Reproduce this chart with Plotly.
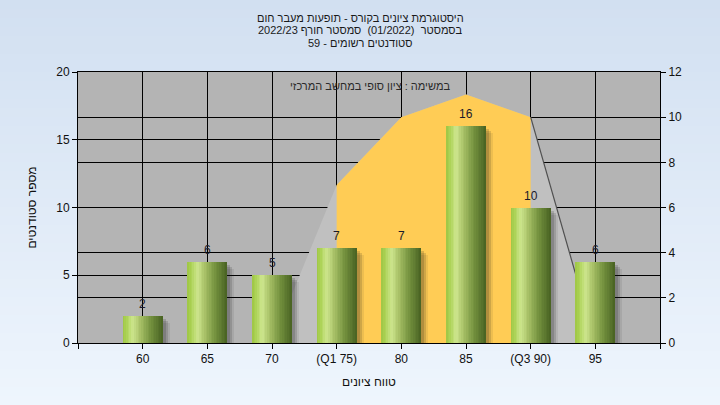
import plotly.graph_objects as go

# ---------------- data ----------------
categories = ["60", "65", "70", "(Q1 75)", "80", "85", "(Q3 90)", "95"]
counts = [2, 6, 5, 7, 7, 16, 10, 6]
curve = [0, 0, 0, 7, 10, 11, 10, 0]          # right axis (0-12)
q1_idx, q3_idx = 3, 6                        # highlighted (orange) span

title_lines = [
    "היסטוגרמת ציונים בקורס - תופעות מעבר חום",
    "בסמסטר  (01/2022)  סמסטר חורף 2022/23",
    "סטודנטים רשומים - 59",
]
legend_text = "במשימה : ציון סופי במחשב המרכזי"
x_title = "טווח ציונים"
y_title = "מספר סטודנטים"

# ---------------- layout constants ----------------
W, H = 720, 405
ML, MR, MT, MB = 78, 60, 72, 62
PW, PH = W - ML - MR, H - MT - MB
FONT = "Arial, Liberation Sans, DejaVu Sans, sans-serif"


def py(px):  # pixel-from-top -> paper y
    return (H - MB - px) / PH


def pxx(px):  # pixel-from-left -> paper x
    return (px - ML) / PW


x = list(range(len(categories)))
bw = 0.62

fig = go.Figure()

# ---------------- area (normal curve) on main y (right side) ----------------
fig.add_trace(go.Scatter(
    x=x, y=curve, yaxis="y", mode="lines", line=dict(width=0, color="#c0c0c0"),
    fill="tozeroy", fillcolor="#c0c0c0", hoverinfo="skip", showlegend=False))
fig.add_trace(go.Scatter(
    x=x[q1_idx:q3_idx + 1], y=curve[q1_idx:q3_idx + 1], yaxis="y", mode="lines",
    line=dict(width=0, color="#ffcc55"), fill="tozeroy", fillcolor="#ffcc55",
    hoverinfo="skip", showlegend=False))
fig.add_trace(go.Scatter(
    x=x[q3_idx:q3_idx + 2], y=curve[q3_idx:q3_idx + 2], yaxis="y", mode="lines",
    line=dict(width=1.2, color="#505050"), hoverinfo="skip", showlegend=False))

# ---------------- bars on y2 (left side, overlay -> drawn above area) ----------------
px_x = PW / 9.0
px_y = PH / 20.0
for d, alpha in [(7, 0.08), (5, 0.14), (3, 0.16)]:
    sx, sy = d / px_x, d / px_y
    fig.add_trace(go.Bar(
        x=x, y=counts, base=[-sy] * len(counts), yaxis="y2",
        width=bw, offset=-bw / 2 + sx,
        marker=dict(color=f"rgba(20,20,20,{alpha})", line=dict(width=0)),
        cliponaxis=False, hoverinfo="skip", showlegend=False))

stops = [(0.0, (158, 198, 68)), (0.1, (172, 210, 86)), (0.25, (206, 230, 142)),
         (0.45, (165, 190, 100)), (0.7, (115, 145, 62)), (1.0, (72, 98, 34))]


def grad(t):
    for (t0, c0), (t1, c1) in zip(stops[:-1], stops[1:]):
        if t0 <= t <= t1:
            f = (t - t0) / (t1 - t0)
            return "rgb(%d,%d,%d)" % tuple(round(a + (b - a) * f) for a, b in zip(c0, c1))
    return "rgb(%d,%d,%d)" % stops[-1][1]


N = 24
step = bw / N
for i in range(N):
    w = step * (1.6 if i < N - 1 else 1.0)
    fig.add_trace(go.Bar(
        x=x, y=counts, yaxis="y2", width=w, offset=-bw / 2 + i * step,
        marker=dict(color=grad((i + 0.5) / N), line=dict(width=0)),
        hoverinfo="skip", showlegend=False))

# ---------------- background gradient ----------------
shapes = []
n = 45
top_c, bot_c = (210, 224, 241), (238, 245, 253)
for i in range(n):
    y0p, y1p = i * H / n, (i + 1) * H / n + 0.6
    f = i / (n - 1)
    col = "rgb(%d,%d,%d)" % tuple(round(a + (b - a) * f) for a, b in zip(top_c, bot_c))
    shapes.append(dict(type="rect", xref="paper", yref="paper", layer="below",
                       x0=pxx(-2), x1=pxx(W + 2), y0=py(y1p), y1=py(y0p),
                       fillcolor=col, line=dict(width=0)))
shapes.append(dict(type="rect", xref="x domain", yref="y domain", layer="below",
                   x0=0, x1=1, y0=0, y1=1, fillcolor="#b4b4b4", line=dict(width=0)))

axis_font = dict(family=FONT, size=12, color="#111111")

annotations = [dict(text=t, xref="paper", yref="paper", x=pxx(W / 2), y=py(yc),
                    showarrow=False, xanchor="center", yanchor="middle",
                    font=dict(family=FONT, size=11, color="#1a1a1a"))
               for t, yc in zip(title_lines, [18, 30.5, 43])]
annotations.append(dict(text=legend_text, xref="paper", yref="paper",
                        x=pxx(370), y=py(86),
                        showarrow=False, xanchor="center", yanchor="middle",
                        font=dict(family=FONT, size=11, color="#2a2a2a")))
# value labels above bars
for xi, c in zip(x, counts):
    annotations.append(dict(text=str(c), x=xi, y=c, xref="x", yref="y2",
                            yshift=12, showarrow=False, xanchor="center",
                            yanchor="middle",
                            font=dict(family=FONT, size=12, color="#1a1a2a")))

fig.update_layout(
    width=W, height=H,
    margin=dict(l=ML, r=MR, t=MT, b=MB),
    paper_bgcolor="#e0eaf6", plot_bgcolor="#b4b4b4",
    barmode="overlay", bargap=0,
    shapes=shapes,
    xaxis=dict(range=[-1, 8], tickmode="array",
               tickvals=[-1] + x + [8], ticktext=[""] + categories + [""],
               showgrid=True, gridcolor="black", gridwidth=1,
               showline=True, linecolor="black", linewidth=1, mirror=True,
               ticks="outside", ticklen=5, tickcolor="black",
               tickfont=axis_font, zeroline=False,
               title=dict(text=x_title, font=dict(family=FONT, size=12, color="#111111"),
                          standoff=12)),
    yaxis=dict(side="right", range=[0, 12], tickvals=[0, 2, 4, 6, 8, 10, 12],
               showgrid=True, gridcolor="black", gridwidth=1,
               showline=True, linecolor="black", linewidth=1,
               ticks="outside", ticklen=5, tickcolor="black",
               tickfont=axis_font, zeroline=False),
    yaxis2=dict(side="left", overlaying="y", range=[0, 20],
                tickvals=[0, 5, 10, 15, 20],
                showgrid=True, gridcolor="black", gridwidth=1,
                showline=True, linecolor="black", linewidth=1,
                ticks="outside", ticklen=5, tickcolor="black",
                tickfont=axis_font, zeroline=False,
                title=dict(text=y_title, font=dict(family=FONT, size=12, color="#111111"),
                           standoff=17)),
    annotations=annotations,
)

fig.write_html("out.html", config={"displayModeBar": False},
               post_script="document.body.style.margin='0';")
